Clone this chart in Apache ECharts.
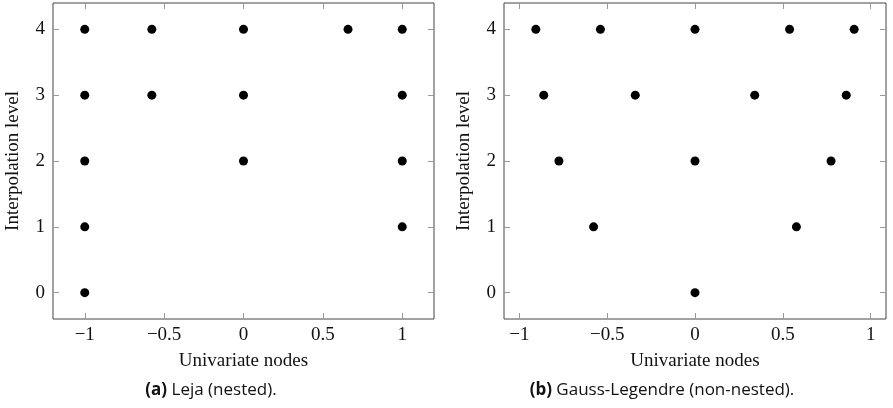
<!DOCTYPE html>
<html>
<head>
<meta charset="utf-8">
<style>
  html, body { margin: 0; padding: 0; background: #fff; }
  #chart { width: 893px; height: 408px; }
</style>
<script src="https://cdn.jsdelivr.net/npm/echarts@6/dist/echarts.min.js"></script>
</head>
<body>
<div id="chart"></div>
<script>
// Interpolation levels and the univariate nodes used at each level
const levels = [0, 1, 2, 3, 4];
const lejaNodes = [
  [-1],
  [-1, 1],
  [-1, 0, 1],
  [-1, -0.5774, 0, 1],
  [-1, -0.5774, 0, 0.6584, 1]
];
const gaussNodes = [
  [0],
  [-0.5774, 0.5774],
  [-0.7746, 0, 0.7746],
  [-0.8611, -0.3400, 0.3400, 0.8611],
  [-0.9062, -0.5385, 0, 0.5385, 0.9062]
];
const xTicks = [-1, -0.5, 0, 0.5, 1];
const yTicks = [0, 1, 2, 3, 4];
const xTitle = 'Univariate nodes';
const yTitle = 'Interpolation level';
const captionTags = ['(a)', '(b)'];
const captionTexts = ['Leja (nested).', 'Gauss-Legendre (non-nested).'];

const SERIF = '"Liberation Serif", "DejaVu Serif", serif';
const SANS = '"Open Sans", "Noto Sans", sans-serif';

function toPoints(nodesByLevel) {
  const pts = [];
  nodesByLevel.forEach((nodes, i) => nodes.forEach(x => pts.push([x, levels[i]])));
  return pts;
}

function fmt(v) {
  return v < 0 ? '\u2212' + Math.abs(v) : String(v);
}

const grids = [
  { left: 53, top: 3, width: 381, height: 316 },
  { left: 504, top: 3, width: 382, height: 316 }
];
const xRanges = [[-1.2, 1.2], [-1.0874, 1.0874]];

const tickStyle = { lineStyle: { color: '#999', width: 1 } };
const noLine = { show: false, onZero: false };

const xAxes = [], yAxes = [], series = [];
grids.forEach((g, i) => {
  // bottom axis with labels
  xAxes.push({
    type: 'value', gridIndex: i, position: 'bottom',
    min: xRanges[i][0], max: xRanges[i][1],
    axisLine: noLine,
    splitLine: { show: false },
    axisTick: { show: true, inside: true, length: 6, customValues: xTicks, ...tickStyle },
    axisLabel: { show: true, customValues: xTicks, formatter: fmt, margin: 7,
      color: '#111', fontFamily: SERIF, fontSize: 19 },
    name: xTitle, nameLocation: 'middle', nameGap: 33,
    nameTextStyle: { color: '#111', fontFamily: SERIF, fontSize: 19 }
  });
  // mirrored top ticks
  xAxes.push({
    type: 'value', gridIndex: i, position: 'top',
    min: xRanges[i][0], max: xRanges[i][1],
    axisLine: noLine, splitLine: { show: false },
    axisTick: { show: true, inside: true, length: 6, customValues: xTicks, ...tickStyle },
    axisLabel: { show: false }
  });
  yAxes.push({
    type: 'value', gridIndex: i, position: 'left',
    min: -0.4, max: 4.4,
    axisLine: noLine, splitLine: { show: false },
    axisTick: { show: true, inside: true, length: 6, customValues: yTicks, ...tickStyle },
    axisLabel: { show: true, customValues: yTicks, formatter: fmt, margin: 8,
      color: '#111', fontFamily: SERIF, fontSize: 19 },
    name: yTitle, nameLocation: 'middle', nameGap: 30, nameRotate: 90,
    nameTextStyle: { color: '#111', fontFamily: SERIF, fontSize: 19 }
  });
  yAxes.push({
    type: 'value', gridIndex: i, position: 'right',
    min: -0.4, max: 4.4,
    axisLine: noLine, splitLine: { show: false },
    axisTick: { show: true, inside: true, length: 6, customValues: yTicks, ...tickStyle },
    axisLabel: { show: false }
  });
});

[lejaNodes, gaussNodes].forEach((nodes, i) => {
  series.push({
    type: 'scatter',
    xAxisIndex: i * 2, yAxisIndex: i * 2,
    data: toPoints(nodes),
    symbol: 'circle', symbolSize: 9,
    itemStyle: { color: '#000', opacity: 1 },
    silent: true
  });
});

const captionCenters = [211, 662];
const graphic = captionCenters.map((cx, i) => ({
  type: 'text',
  x: cx, y: 390,
  style: {
    text: '{b|' + captionTags[i] + '} ' + captionTexts[i],
    rich: {
      b: { fontWeight: 'bold', fontFamily: SANS, fontSize: 17, fill: '#111' }
    },
    fontFamily: SANS, fontSize: 17, fill: '#111',
    align: 'center', verticalAlign: 'middle'
  }
}));

const chart = echarts.init(document.getElementById('chart'), null, { renderer: 'canvas' });
chart.setOption({
  animation: false,
  backgroundColor: '#fff',
  grid: grids.map(g => ({ ...g, show: true, borderColor: '#444', borderWidth: 1, backgroundColor: 'transparent' })),
  xAxis: xAxes,
  yAxis: yAxes,
  series: series,
  graphic: graphic
});
</script>
</body>
</html>
